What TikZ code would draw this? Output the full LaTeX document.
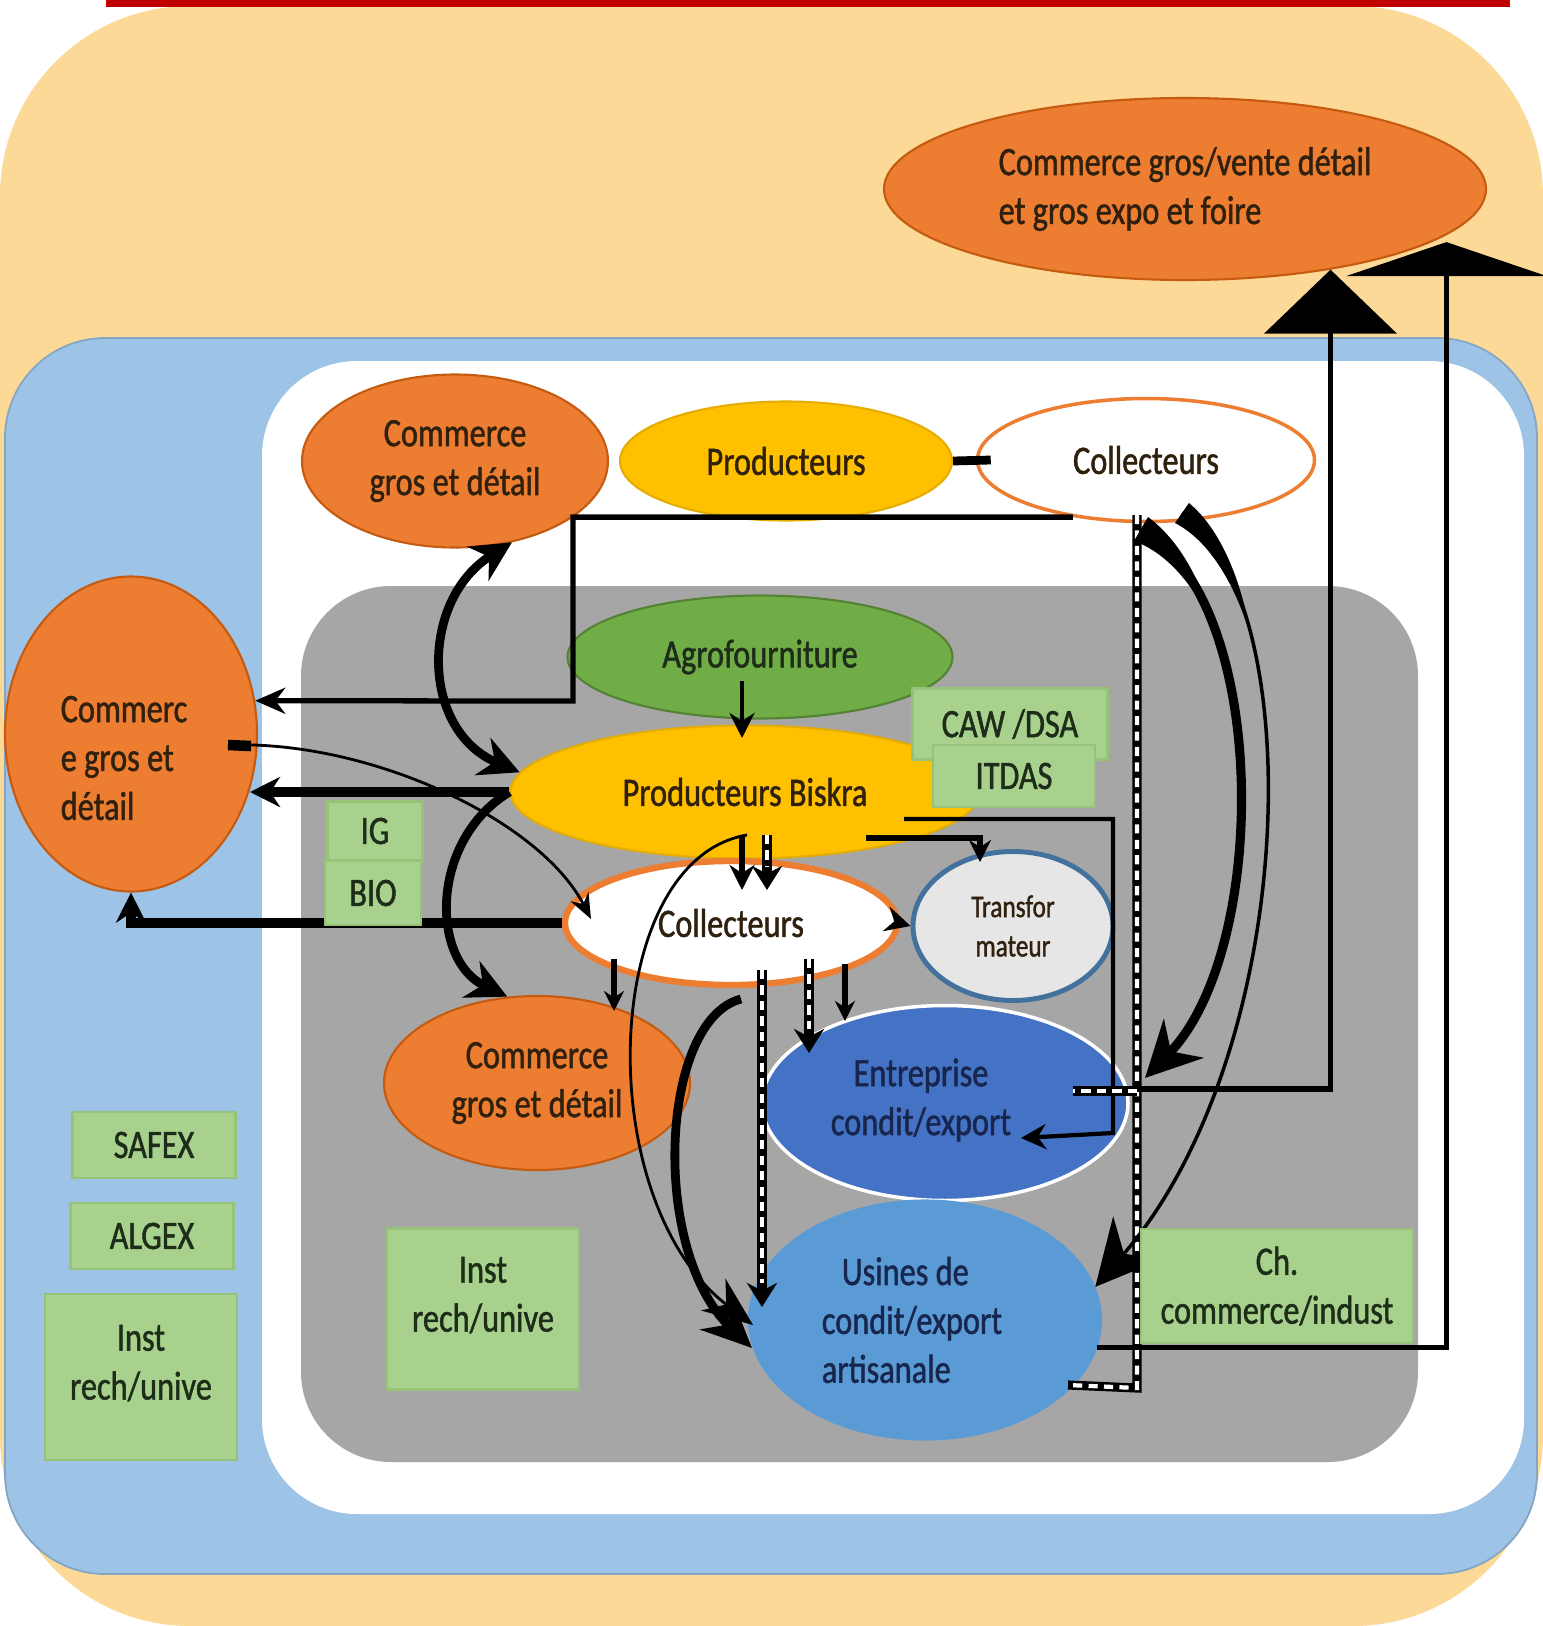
\documentclass[tikz,border=0pt]{standalone}
\usepackage{fontspec}
\setmainfont{Carlito}[FakeStretch=0.8,FakeBold=1.2]
\usetikzlibrary{shapes.geometric,arrows.meta,calc}
\definecolor{bgyel}{RGB}{252,217,150}
\definecolor{bgblue}{RGB}{157,195,230}
\definecolor{bggray}{RGB}{166,166,166}
\definecolor{orng}{RGB}{237,125,49}
\definecolor{orngdk}{RGB}{197,90,17}
\definecolor{yel}{RGB}{255,192,0}
\definecolor{grn}{RGB}{112,173,71}
\definecolor{grndk}{RGB}{84,130,53}
\definecolor{lgrn}{RGB}{169,209,142}
\definecolor{lgrnb}{RGB}{150,195,120}
\definecolor{ent}{RGB}{68,114,196}
\definecolor{usi}{RGB}{91,155,213}
\definecolor{trf}{RGB}{231,230,230}
\definecolor{trfb}{RGB}{65,113,156}
\definecolor{redbar}{RGB}{192,0,0}
\definecolor{txt}{RGB}{48,32,14}
\definecolor{navy}{RGB}{24,38,78}
\definecolor{gtxt}{RGB}{30,45,25}
\newcommand\dflowA[2]{\draw[dback,-{Stealth[length=2.4mm,width=3mm]}] #1 -- #2; \draw[dfront,shorten >=2.4mm] #1 -- #2;}
\newcommand\dflowN[1]{\draw[dback] #1; \draw[dfront] #1;}
\begin{document}
\begin{tikzpicture}[x=0.1mm,y=-0.1mm,
  font=\fontsize{11.5}{13.9}\selectfont,
  ell/.style={ellipse, inner sep=0pt, align=center, text=txt},
  box/.style={rectangle, fill=lgrn, draw=lgrnb, line width=0.6pt, inner sep=0pt, align=center, text=gtxt},
  ln/.style={draw=black, line cap=butt},
  dback/.style={draw=black, line width=2.6pt},
  dfront/.style={draw=white, line width=1.2pt, dash pattern=on 2.6pt off 1.8pt},
  lbl/.style={inner sep=0pt, align=center}]
\useasboundingbox (0,0) rectangle (1543,1626);
% backgrounds
\fill[white] (0,0) rectangle (1543,1626);
\fill[bgyel, rounded corners=19mm] (0,6) rectangle (1543,1626);
\fill[redbar] (106,0) rectangle (1510,7);
\filldraw[fill=bgblue, draw=bgblue!85!black, line width=0.5pt, rounded corners=10mm] (5,338) rectangle (1537,1574);
\fill[white, rounded corners=9.5mm] (262,361) rectangle (1524,1514);
\fill[bggray, rounded corners=9mm] (301,586) rectangle (1418,1462);

% ellipses
\node[ell, fill=orng, draw=orngdk, line width=0.6pt, minimum width=60.2mm, minimum height=18.2mm, align=left] (topC) at (1185,189) {Commerce gros/vente détail\\et gros expo et foire};
\node[ell, fill=orng, draw=orngdk, line width=0.6pt, minimum width=30.6mm, minimum height=17.3mm] (comTop) at (455,461) {Commerce\\gros et détail};
\node[ell, fill=yel, draw=yel!90!black, line width=0.6pt, minimum width=33.2mm, minimum height=11.9mm] (prodTop) at (786,461) {Producteurs};
\node[ell, fill=white, draw=orng, line width=1pt, minimum width=33.7mm, minimum height=12.3mm] (collTop) at (1146,460) {Collecteurs};
\node[ell, fill=grn, draw=grndk, line width=0.6pt, minimum width=38.5mm, minimum height=12.3mm, text=gtxt] (agro) at (760,657) {Agrofourniture};
\node[ell, fill=yel, draw=yel!90!black, line width=0.6pt, minimum width=46.9mm, minimum height=13.3mm] (pb) at (745,792) {Producteurs Biskra};
\node[ell, fill=orng, draw=orngdk, line width=0.6pt, minimum width=25.2mm, minimum height=31.5mm] (comL) at (131,734) {};
\node[lbl, align=left, text=txt] at ($(comL.center)+(-7,24)$) {Commerc\\e gros et\\détail};
\node[ell, fill=white, draw=orng, line width=1.8pt, minimum width=33.2mm, minimum height=12.4mm] (collMid) at (731,923) {Collecteurs};
\node[ell, fill=trf, draw=trfb, line width=1.4pt, minimum width=20mm, minimum height=14.9mm, font=\fontsize{9}{11.2}\selectfont] (transf) at (1013,926) {Transfor\\mateur};
\node[ell, fill=orng, draw=orngdk, line width=0.6pt, minimum width=30.6mm, minimum height=17.4mm] (comLow) at (537,1083) {Commerce\\gros et détail};
\node[ell, fill=ent, draw=white, line width=1pt, minimum width=36.6mm, minimum height=19.5mm] (entr) at (945,1103) {};
\node[lbl, text=navy] at ($(entr.center)+(-24,-3)$) {Entreprise\\condit/export};
\node[ell, fill=usi, draw=usi, line width=0.6pt, minimum width=35.2mm, minimum height=23.9mm] (usines) at (925,1320) {};
\node[lbl, align=left, text=navy] at ($(usines.center)+(-13,0)$) {\hspace*{2mm}Usines de\\condit/export\\artisanale};

% connectors
\draw[ln, line width=2.5pt] (prodTop.east) -- ($(collTop.west)+(15,0)$);
\draw[ln, line width=1.5pt, -{Stealth[length=3mm,width=2.6mm]}] (collTop.218) -| (573,701) -- (comL.15);
\draw[ln, line width=2.5pt, {Stealth[length=4mm,width=4mm]}-{Stealth[length=4mm,width=4mm]}] (comTop.-55) .. controls (420,600) and (420,730) .. (pb.175);
\draw[ln, line width=2.5pt, -{Stealth[length=4mm,width=4mm]}] (pb.180) .. controls (430,840) and (430,960) .. (comLow.109);
\draw[ln, line width=2.6pt, -{Stealth[length=3mm,width=3mm]}] (pb.west) -- (pb.west -| comL.-25);
\draw[ln, line width=3pt] ($(comL.center)+(97,11)$) -- ($(comL.center)+(120,12)$);
\draw[ln, line width=0.8pt, -{Stealth[length=2.5mm,width=2mm]}] ($(comL.center)+(97,11)$) .. controls (370,740) and (540,820) .. ($(collMid.center)+(-140,-4)$);
\draw[ln, line width=2.6pt, -{Stealth[length=3mm,width=3mm]}] (collMid.west) -| (comL.south);
\draw[ln, line width=1.3pt, -{Stealth[length=2.5mm,width=2.5mm]}] ($(agro.center)+(-18,24)$) -- ($(pb.center)+(-3,-54)$);
\draw[ln, line width=1.8pt, -{Stealth[length=2.5mm,width=2.5mm]}] ($(pb.center)+(-3,43)$) -- ($(collMid.center)+(11,-33)$);
\dflowA{($(pb.center)+(22,43)$)}{($(collMid.center)+(36,-33)$)}
\draw[ln, line width=0.8pt, -{Stealth[length=5mm,width=4mm]}] ($(pb.center)+(2,43)$) .. controls (600,860) and (590,1200) .. ($(usines.center)+(-172,5)$);
\draw[ln, line width=2.5pt, -{Stealth[length=5mm,width=4.5mm]}] ($(collMid.center)+(10,76)$) .. controls (660,1020) and (650,1250) .. ($(usines.center)+(-173,28)$);
\dflowA{($(collMid.center)+(31,47)$)}{($(usines.center)+(-163,-13)$)}
\dflowA{($(collMid.center)+(78,36)$)}{($(entr.center)+(-136,-50)$)}
\draw[ln, line width=1.8pt, -{Stealth[length=2mm,width=2mm]}] ($(collMid.center)+(114,41)$) -- ($(entr.center)+(-100,-82)$);
\draw[ln, line width=1.8pt, -{Stealth[length=2mm,width=2mm]}] ($(collMid.center)+(-117,36)$) -- ($(comLow.center)+(77,-72)$);
\draw[ln, line width=2.2pt, -{Stealth[length=2.5mm,width=2.5mm]}] (collMid.east) -- (transf.west);
\draw[ln, line width=1.5pt, -{Stealth[length=2.2mm,width=2.2mm]}] ($(pb.center)+(121,46)$) -| ($(transf.center)+(-33,-64)$);
\draw[ln, line width=1.2pt, -{Stealth[length=2.5mm,width=2.5mm]}] ($(pb.center)+(159,27)$) -| ($(entr.center)+(168,30)$) -- ($(entr.center)+(76,35)$);
\dflowN{($(collTop.center)+(-9,55)$) -- (1137,1388) -- ($(usines.center)+(143,65)$)}
\dflowN{(1137,1091) -- ($(entr.center)+(128,-12)$)}
\draw[ln, line width=1.5pt, -{Triangle[length=6.4mm,width=13.2mm]}] ($(entr.center)+(192,-14)$) -| (topC.-29.4);
\draw[ln, line width=1.5pt, -{Triangle[length=3.4mm,width=20mm]}] (usines.-9.3) -| ($(topC.-10.6)+(0,7)$);
% collecteurs -> entreprise (tapered)
\draw[ln, line width=2.6pt, -{Stealth[length=5.5mm,width=5.5mm]}] ($(collTop.center)+(-5,69)$) .. controls (1270,600) and (1270,950) .. ($(entr.center)+(200,-25)$);
\fill[black] (1134,541) .. controls (1167,553) and (1193,584) .. (1213.6,626.7) .. controls (1201,580) and (1179,540) .. (1148,517) -- cycle;
% collecteurs -> usines (tapered)
\draw[ln, line width=1pt, -{Stealth[length=6.5mm,width=6.5mm]}] ($(collTop.center)+(36,53)$) .. controls (1310,600) and (1300,1050) .. (usines.11);
\fill[black] (1175,523) .. controls (1208,540) and (1234,581) .. (1251,637) .. controls (1241,578) and (1220,529) .. (1189,503) -- cycle;

% boxes
\node[box, minimum width=19.5mm, minimum height=7.1mm] (caw) at (1010,724) {CAW /DSA};
\node[box, minimum width=16.2mm, minimum height=6.2mm] (itdas) at (1014,776) {ITDAS};
\node[box, minimum width=9.5mm, minimum height=5.9mm] (ig) at (375,831) {IG};
\node[box, minimum width=9.6mm, minimum height=6.4mm] (bio) at (373,893) {BIO};
\node[box, minimum width=16.3mm, minimum height=6.6mm] (safex) at (154,1145) {SAFEX};
\node[box, minimum width=16.3mm, minimum height=6.6mm] (algex) at (152,1236) {ALGEX};
\node[box, minimum width=19.2mm, minimum height=16.6mm] (instL) at (141,1377) {};
\node[lbl, text=gtxt] at ($(instL.center)+(0,-14)$) {Inst\\rech/unive};
\node[box, minimum width=19.2mm, minimum height=16.1mm] (instC) at (483,1309) {};
\node[lbl, text=gtxt] at ($(instC.center)+(0,-14)$) {Inst\\rech/unive};
\node[box, minimum width=27.2mm, minimum height=11.4mm] (ch) at (1277,1286) {Ch.\\commerce/indust};
\end{tikzpicture}
\end{document}
